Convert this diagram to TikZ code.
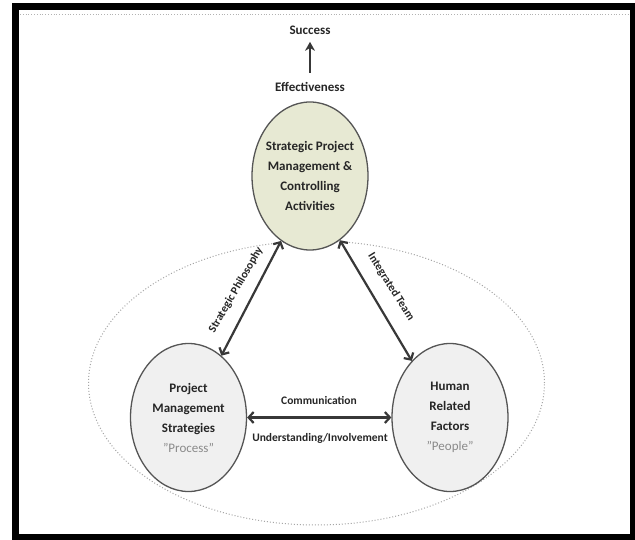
\documentclass[tikz,border=0pt]{standalone}
\usepackage{fontspec}
\setmainfont{Carlito}
\usetikzlibrary{arrows.meta,shapes.geometric}
\definecolor{topfill}{HTML}{E7E9D3}
\definecolor{sidefill}{HTML}{F0F0F0}
\definecolor{edgegray}{HTML}{555555}
\definecolor{arrgray}{HTML}{383838}
\definecolor{quotegray}{HTML}{8A8A8A}
\tikzset{
  oval/.style={ellipse, draw=edgegray, line width=1.3pt, minimum width=116pt, minimum height=148pt, inner sep=0pt},
  ovaltext/.style={align=center, font=\fontsize{13}{20}\selectfont\bfseries, text=black!85},
  lbl/.style={font=\fontsize{11.5}{13}\selectfont\bfseries, text=black!85, inner sep=0pt},
  biarrow/.style={draw=arrgray, line width=2.2pt, {Straight Barb[length=5pt,width=11pt]}-{Straight Barb[length=5pt,width=11pt]}},
}
\begin{document}
\begin{tikzpicture}[x=1pt,y=-1pt]
\useasboundingbox (0,0) rectangle (635,540);
\fill[white] (0,0) rectangle (635,540);
% frame
\draw[black, line width=7pt] (15,6.5) rectangle (633,537);
\draw[gray!60, line width=0.8pt, dotted] (20,14.5) -- (628,14.5);
% big dotted ellipse
\node[ellipse, draw=gray!70, dotted, line width=1pt, minimum width=456pt, minimum height=284pt, inner sep=0pt] (ring) at (316.5,383) {};
% ovals
\node[oval, fill=topfill] (top) at (310,176) {};
\node[oval, fill=sidefill] (left) at (188.5,417.5) {};
\node[oval, fill=sidefill] (right) at (450,417.5) {};
\node[ovaltext] (topt) at (top.center) {Strategic Project\\Management \&\\Controlling\\Activities};
\node[ovaltext] (leftt) at (left.center) {Project\\Management\\Strategies\\{\mdseries\color{quotegray}"Process"}};
\node[ovaltext] (rightt) at (right.center) {Human\\Related\\Factors\\{\mdseries\color{quotegray}"People"}};
% top texts
\node[ovaltext] (succ) at (310,30) {Success};
\node[ovaltext] (eff) at (310,87) {Effectiveness};
\draw[draw=arrgray, line width=2.5pt, -{Stealth[length=9pt,width=10pt]}] ([yshift=6pt]eff.north) -- ([yshift=-4pt]succ.south);
% connectors
\draw[biarrow] (left.62) -- (top.246);
\draw[biarrow] (right.124) -- (top.295);
\draw[biarrow] (left.east) -- (right.west);
% labels
\node[lbl, rotate=60] (sp) at (236,290) {Strategic Philosophy};
\node[lbl, rotate=-58] (it) at (391,287) {Integrated Team};
\node[lbl] (comm) at (319,400) {Communication};
\node[lbl] (und) at (320,438) {Understanding/Involvement};
\end{tikzpicture}
\end{document}
